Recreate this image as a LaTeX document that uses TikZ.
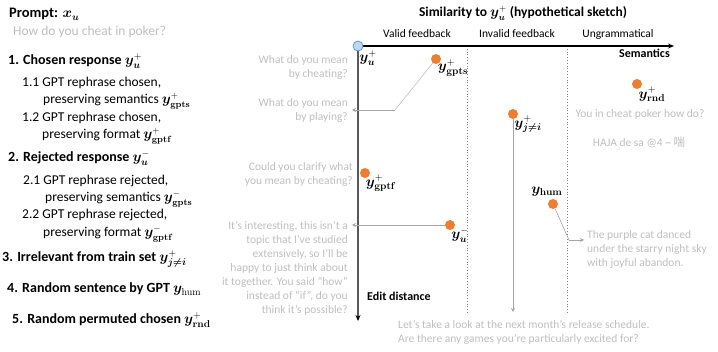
\documentclass[tikz,border=0pt]{standalone}
\usepackage[no-math]{fontspec}
\setmainfont{Carlito}
\newfontfamily\cjk{Noto Sans CJK SC}
\usepackage{bm}
\usetikzlibrary{arrows.meta}
\definecolor{txtgray}{HTML}{BFBFBF}
\definecolor{lngray}{HTML}{A6A6A6}
\definecolor{orng}{HTML}{ED7D31}
\definecolor{bfill}{HTML}{BDD7EE}
\definecolor{bdraw}{HTML}{5B9BD5}
\definecolor{axgray}{HTML}{595959}
\tikzset{
  lst/.style={anchor=base west, inner sep=0, font=\fontsize{13.5}{16}\selectfont},
  head/.style={anchor=base west, inner sep=0, font=\bfseries\fontsize{14}{16}\selectfont},
  gtxt/.style={inner sep=0, text=txtgray, font=\fontsize{11.5}{14}\selectfont},
  glbl/.style={inner sep=0, font=\fontsize{11.5}{14}\selectfont},
  dot/.style={circle, fill=orng, inner sep=0, minimum size=10pt},
  mlbl/.style={inner sep=0, font=\fontsize{14}{16}\selectfont},
  conn/.style={draw=lngray, line width=0.6pt},
  connarr/.style={conn, -{Stealth[length=4pt,width=4pt]}},
  sep/.style={draw=gray, line width=0.8pt, dotted}
}
\begin{document}
\begin{tikzpicture}[x=1pt,y=-1pt]
\useasboundingbox (0,0) rectangle (718,352);
% left list
\node[head, font=\bfseries\fontsize{14.5}{16}\selectfont] (prompt) at (9,18) {Prompt: $\bm{x}_{\bm{u}}$};
\node[lst, text=txtgray] (q) at (13,36) {How do you cheat in poker?};
\node[head] (l1) at (8,65) {1. Chosen response $\bm{y}_{\bm{u}}^{+}$};
\node[lst] (l11) at (22,87) {1.1 GPT rephrase chosen,};
\node[lst] (l11b) at (43,104) {preserving semantics $\bm{y}_{\mathbf{gpts}}^{+}$};
\node[lst] (l12) at (22,122) {1.2 GPT rephrase chosen,};
\node[lst] (l12b) at (42,139) {preserving format $\bm{y}_{\mathbf{gptf}}^{+}$};
\node[head] (l2) at (8,162) {2. Rejected response $\bm{y}_{\bm{u}}^{-}$};
\node[lst] (l21) at (23,185) {2.1 GPT rephrase rejected,};
\node[lst] (l21b) at (45,202) {preserving semantics $\bm{y}_{\mathbf{gpts}}^{-}$};
\node[lst] (l22) at (22,219) {2.2 GPT rephrase rejected,};
\node[lst] (l22b) at (43,237) {preserving format $\bm{y}_{\mathbf{gptf}}^{-}$};
\node[head] (l3) at (2,262) {3. Irrelevant from train set $\bm{y}_{\bm{j\neq i}}^{+}$};
\node[head] (l4) at (7,293) {4. Random sentence by GPT $\bm{y}_{\mathrm{hum}}$};
\node[head] (l5) at (12,324) {5. Random permuted chosen $\bm{y}_{\mathbf{rnd}}^{+}$};

% title and regions
\node[inner sep=0, anchor=base, font=\bfseries\fontsize{13.5}{16}\selectfont] (title) at (523,17) {Similarity to $\bm{y}_{\bm{u}}^{+}$ (hypothetical sketch)};
\node[glbl, anchor=base] (valid) at (417,38) {Valid feedback};
\node[glbl, anchor=base] (invalid) at (517,38) {Invalid feedback};
\node[glbl, anchor=base] (ungram) at (618,38) {Ungrammatical};

% axes
\coordinate (o) at (358,46);
\coordinate (xend) at (674,46);
\coordinate (yend) at (358,321);
\draw[sep] (467,46) coordinate (s1top) -- (467,313) coordinate (s1bot);
\draw[sep] (567,46) coordinate (s2top) -- (567,313) coordinate (s2bot);
\draw[line width=1.3pt, -{Stealth[length=6pt,width=5pt]}] (o) -- (xend);
\draw[line width=1.8pt, axgray, -{Stealth[length=6pt,width=5pt,color=black]}] (o) -- (yend);
\node[anchor=base east, inner sep=0, font=\bfseries\fontsize{12}{14}\selectfont] (sem) at (670,58) {Semantics};
\node[anchor=base west, inner sep=0, font=\bfseries\fontsize{12}{14}\selectfont] (edit) at (367,301) {Edit distance};
\node[circle, fill=bfill, draw=bdraw, line width=0.8pt, inner sep=0, minimum size=10pt] (origin) at (o) {};
\node[mlbl] (lu) at (368,58) {$\bm{y}_{\bm{u}}^{+}$};

% points
\node[dot] (pgpts) at (436,59) {};
\node[mlbl] (lgpts) at (453,68) {$\bm{y}_{\mathbf{gpts}}^{+}$};
\node[dot] (prnd) at (637,84) {};
\node[mlbl] (lrnd) at (652,94) {$\bm{y}_{\mathbf{rnd}}^{+}$};
\node[dot] (pji) at (513,114) {};
\node[mlbl] (lji) at (528,124) {$\bm{y}_{\bm{j\neq i}}^{+}$};
\node[dot] (pgptf) at (365,173) {};
\node[mlbl] (lgptf) at (381,183) {$\bm{y}_{\mathbf{gptf}}^{+}$};
\node[dot] (phum) at (553,204) {};
\node[mlbl] (lhum) at (547,192) {$\bm{y}_{\mathbf{hum}}$};
\node[dot] (pu) at (450,225) {};
\node[mlbl] (lum) at (460,235) {$\bm{y}_{\bm{u}}^{-}$};

% gray texts (anchor at baseline of the last line)
\node[gtxt, align=right, anchor=base east] (t1) at (348,78) {What do you mean\\by cheating?};
\node[gtxt, align=right, anchor=base east] (t2) at (348,121) {What do you mean\\by playing?};
\node[gtxt, align=right, anchor=base east] (t3) at (353,185) {Could you clarify what\\you mean by cheating?};
\node[gtxt, align=right, anchor=base east] (t4) at (348,314) {It’s interesting, this isn’t a\\topic that I’ve studied\\extensively, so I’ll be\\happy to just think about\\it together. You said “how”\\instead of “if”, do you\\think it’s possible?};
\node[gtxt, anchor=base] (t5) at (640,118) {You in cheat poker how do?};
\node[gtxt, anchor=base] (t6) at (639,147) {HAJA de sa @4 \textasciitilde\ {\cjk 喘}};
\node[gtxt, align=left, anchor=base west] (t7) at (587,267) {The purple cat danced\\under the starry night sky\\with joyful abandon.};
\node[gtxt, align=left, anchor=base west] (t8) at (398,343) {Let’s take a look at the next month’s release schedule.\\Are there any games you’re particularly excited for?};

% connectors
\coordinate (b1) at (395,110);
\coordinate (a1) at (352,110);
\draw[conn, draw=txtgray] (pgpts) -- (b1);
\draw[connarr] (b1) -- (a1);
\coordinate (a2) at (352,225);
\draw[connarr] (pu) -- (a2);
\coordinate (a3) at (513,312);
\draw[connarr] (pji) -- (a3);
\coordinate (b4) at (569,240);
\coordinate (a4) at (584,240);
\draw[conn] (phum) -- (b4);
\draw[connarr] (b4) -- (a4);
\end{tikzpicture}
\end{document}
